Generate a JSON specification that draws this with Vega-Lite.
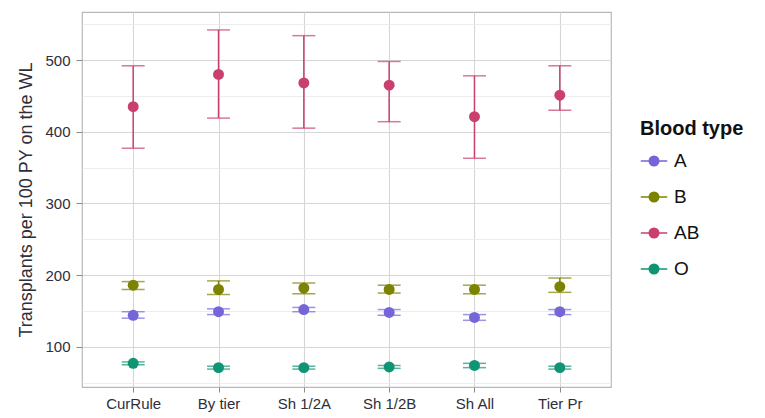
{
  "$schema": "https://vega.github.io/schema/vega-lite/v6.json",
  "width": 529,
  "height": 375,
  "autosize": "none",
  "padding": {"left": 82, "top": 12, "right": 154, "bottom": 31},
  "background": "white",
  "config": {
    "font": "Liberation Sans",
    "view": {"stroke": "#b8b8b8", "strokeWidth": 1.2},
    "axis": {"labelFont": "Liberation Sans", "titleFont": "Liberation Sans"}
  },
  "resolve": {"axis": {"y": "independent"}},
  "data": {
    "values": [
      {"scheme": "CurRule", "type": "A", "est": 144, "lo": 140, "hi": 149},
      {"scheme": "By tier", "type": "A", "est": 149, "lo": 145, "hi": 153},
      {"scheme": "Sh 1/2A", "type": "A", "est": 152, "lo": 149, "hi": 155},
      {"scheme": "Sh 1/2B", "type": "A", "est": 148, "lo": 144, "hi": 152},
      {"scheme": "Sh All", "type": "A", "est": 141, "lo": 137, "hi": 145},
      {"scheme": "Tier Pr", "type": "A", "est": 149, "lo": 145, "hi": 152},
      {"scheme": "CurRule", "type": "B", "est": 186, "lo": 180, "hi": 191},
      {"scheme": "By tier", "type": "B", "est": 180, "lo": 173, "hi": 192},
      {"scheme": "Sh 1/2A", "type": "B", "est": 182, "lo": 174, "hi": 189},
      {"scheme": "Sh 1/2B", "type": "B", "est": 180, "lo": 175, "hi": 186},
      {"scheme": "Sh All", "type": "B", "est": 180, "lo": 174, "hi": 186},
      {"scheme": "Tier Pr", "type": "B", "est": 184, "lo": 176, "hi": 196},
      {"scheme": "CurRule", "type": "AB", "est": 435, "lo": 377, "hi": 492},
      {"scheme": "By tier", "type": "AB", "est": 480, "lo": 419, "hi": 542},
      {"scheme": "Sh 1/2A", "type": "AB", "est": 468, "lo": 405, "hi": 534},
      {"scheme": "Sh 1/2B", "type": "AB", "est": 465, "lo": 414, "hi": 498},
      {"scheme": "Sh All", "type": "AB", "est": 421, "lo": 363, "hi": 478},
      {"scheme": "Tier Pr", "type": "AB", "est": 451, "lo": 430, "hi": 492},
      {"scheme": "CurRule", "type": "O", "est": 77, "lo": 75, "hi": 79},
      {"scheme": "By tier", "type": "O", "est": 71, "lo": 69, "hi": 73},
      {"scheme": "Sh 1/2A", "type": "O", "est": 71, "lo": 69, "hi": 73},
      {"scheme": "Sh 1/2B", "type": "O", "est": 72, "lo": 70, "hi": 74},
      {"scheme": "Sh All", "type": "O", "est": 74, "lo": 71, "hi": 77},
      {"scheme": "Tier Pr", "type": "O", "est": 71, "lo": 69, "hi": 73}
    ]
  },
  "encoding": {
    "x": {
      "field": "scheme", "type": "nominal",
      "sort": ["CurRule", "By tier", "Sh 1/2A", "Sh 1/2B", "Sh All", "Tier Pr"],
      "scale": {"type": "point", "padding": 0.6},
      "axis": {
        "title": null, "labelAngle": 0, "labelFontSize": 15, "labelColor": "#2e2e3a",
        "grid": true, "gridColor": "#d6d6d6", "gridWidth": 1.1,
        "domain": false, "tickColor": "#8a8a8a", "tickSize": 5, "labelPadding": 4
      }
    },
    "color": {
      "field": "type", "type": "nominal",
      "sort": ["A", "B", "AB", "O"],
      "scale": {"domain": ["A", "B", "AB", "O"], "range": ["#7466d8", "#7d8200", "#c9406f", "#0f9474"]},
      "legend": {
        "title": "Blood type", "titleFontSize": 20, "titleFontWeight": "bold", "titleColor": "#111",
        "titleFont": "Liberation Sans", "titlePadding": 8,
        "labelFontSize": 19, "labelColor": "#111", "labelFont": "Liberation Sans",
        "symbolType": "M-1,0H1M-0.36,0A0.36,0.36 0 1,0 0.36,0A0.36,0.36 0 1,0 -0.36,0Z",
        "symbolSize": 700, "symbolStrokeWidth": 1.5, "symbolOpacity": 1, "rowPadding": 12,
        "orient": "none", "legendX": 558, "legendY": 107, "labelOffset": 6
      }
    }
  },
  "layer": [
    {
      "mark": {"type": "rule", "strokeWidth": 1.5},
      "encoding": {
        "y": {
          "field": "lo", "type": "quantitative",
          "scale": {"domain": [44, 567], "nice": false, "zero": false},
          "axis": {
            "orient": "left",
            "title": null, "labels": false, "ticks": false, "domain": false,
            "values": [50, 150, 250, 350, 450, 550],
            "grid": true, "gridColor": "#e8e8e8", "gridWidth": 0.8
          }
        },
        "y2": {"field": "hi"}
      }
    },
    {
      "mark": {"type": "tick", "size": 23, "thickness": 1.5, "orient": "horizontal"},
      "encoding": {"y": {"field": "lo", "type": "quantitative", "axis": null}}
    },
    {
      "mark": {"type": "tick", "size": 23, "thickness": 1.5, "orient": "horizontal"},
      "encoding": {"y": {"field": "hi", "type": "quantitative", "axis": null}}
    },
    {
      "mark": {"type": "circle", "size": 120, "opacity": 1},
      "encoding": {
        "y": {
          "field": "est", "type": "quantitative",
          "axis": {
            "orient": "left",
            "title": "Transplants per 100 PY on the WL", "titleFontSize": 18, "titleFontWeight": "normal",
            "titleColor": "#2e2e3a", "titlePadding": 9,
            "values": [100, 200, 300, 400, 500],
            "labelFontSize": 15, "labelColor": "#2e2e3a", "labelPadding": 6,
            "domain": false, "tickSize": 6, "tickColor": "#8a8a8a",
            "grid": true, "gridColor": "#d6d6d6", "gridWidth": 1.1
          }
        }
      }
    }
  ]
}
